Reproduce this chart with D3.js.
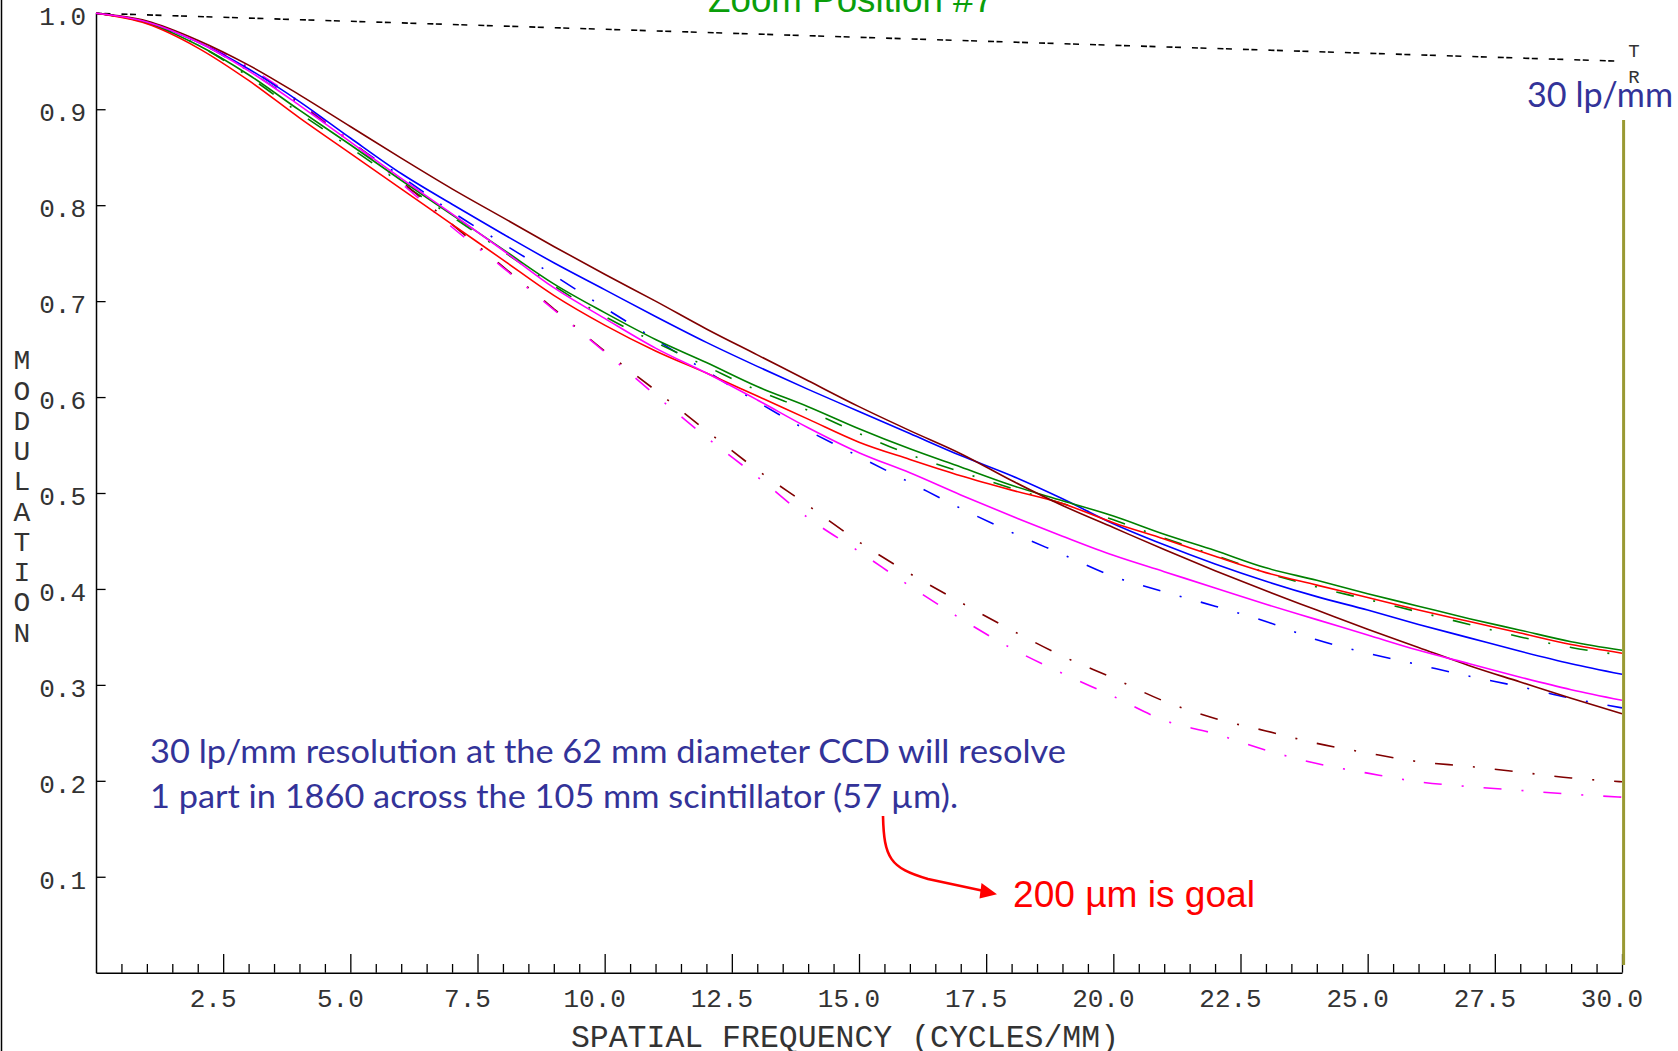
<!DOCTYPE html>
<html><head><meta charset="utf-8">
<script src="https://cdn.jsdelivr.net/npm/d3@7"></script>
<style>html,body{margin:0;padding:0;background:#fff;overflow:hidden}</style>
</head><body>
<svg id="c" width="1678" height="1051" xmlns="http://www.w3.org/2000/svg"></svg>
<script>
// ---- data ----
const freq = [0,1,2,3,4,5,6,7,8,9,10,11,12,13,14,15,16,17,18,19,20,21,22,23,24,25,26,27,28,29,30];

// solid (tangential) curves
const blueT    = [1.000,0.991,0.970,0.942,0.908,0.870,0.833,0.801,0.770,0.740,0.712,0.684,0.657,0.632,0.608,0.585,0.562,0.539,0.518,0.494,0.468,0.446,0.426,0.408,0.392,0.378,0.363,0.349,0.335,0.322,0.311];
const greenT   = [1.000,0.990,0.967,0.936,0.899,0.863,0.826,0.790,0.754,0.718,0.688,0.660,0.636,0.611,0.590,0.567,0.546,0.527,0.508,0.492,0.476,0.457,0.440,0.422,0.409,0.395,0.382,0.369,0.357,0.345,0.336];
const redT     = [1.000,0.989,0.964,0.930,0.891,0.854,0.817,0.780,0.743,0.706,0.675,0.648,0.625,0.601,0.577,0.553,0.535,0.518,0.503,0.489,0.469,0.452,0.434,0.417,0.404,0.391,0.378,0.366,0.354,0.342,0.333];
const maroonT  = [1.000,0.992,0.972,0.946,0.915,0.882,0.849,0.817,0.787,0.757,0.728,0.700,0.671,0.644,0.617,0.590,0.565,0.541,0.513,0.487,0.464,0.441,0.419,0.398,0.378,0.358,0.339,0.320,0.303,0.286,0.270];
const magentaT = [1.000,0.991,0.970,0.940,0.904,0.866,0.828,0.791,0.753,0.714,0.682,0.651,0.625,0.597,0.568,0.542,0.521,0.498,0.476,0.455,0.435,0.418,0.401,0.384,0.368,0.352,0.336,0.322,0.308,0.295,0.284];

// dash-dot (radial) curves
const blueR    = [1.000,0.991,0.970,0.940,0.905,0.866,0.830,0.793,0.760,0.727,0.693,0.660,0.627,0.595,0.565,0.538,0.511,0.484,0.459,0.436,0.413,0.397,0.382,0.366,0.347,0.333,0.321,0.309,0.298,0.286,0.276];
const greenR   = [1.000,0.990,0.967,0.934,0.896,0.860,0.823,0.788,0.752,0.716,0.684,0.657,0.632,0.607,0.586,0.562,0.540,0.522,0.505,0.489,0.472,0.453,0.435,0.417,0.402,0.389,0.376,0.363,0.350,0.339,0.331];
const maroonR  = [1.000,0.991,0.971,0.943,0.907,0.867,0.825,0.780,0.736,0.692,0.648,0.607,0.565,0.524,0.487,0.449,0.416,0.386,0.357,0.330,0.307,0.283,0.265,0.252,0.239,0.229,0.220,0.215,0.209,0.203,0.199];
const magentaR = [1.000,0.991,0.971,0.944,0.908,0.867,0.823,0.777,0.735,0.691,0.647,0.602,0.558,0.517,0.474,0.439,0.403,0.369,0.338,0.312,0.288,0.263,0.249,0.232,0.218,0.208,0.199,0.194,0.190,0.186,0.183];

// diffraction limit
const diffFreq  = [0, 30];
const diffLimit = [1.000, 0.950];

const xMajorTicks = [2.5,5,7.5,10,12.5,15,17.5,20,22.5,25,27.5,30];
const xMinorTicks = [0.5,1,1.5,2,3,3.5,4,4.5,5.5,6,6.5,7,8,8.5,9,9.5,10.5,11,11.5,12,13,13.5,14,14.5,15.5,16,16.5,17,18,18.5,19,19.5,20.5,21,21.5,22,23,23.5,24,24.5,25.5,26,26.5,27,28,28.5,29,29.5];
const yTicks = [0.1,0.2,0.3,0.4,0.5,0.6,0.7,0.8,0.9,1.0];

const seriesNames  = ["blueT","greenT","redT","maroonT","magentaT","blueR","greenR","maroonR","magentaR"];
const seriesValues = [blueT,greenT,redT,maroonT,magentaT,blueR,greenR,maroonR,magentaR];
const seriesColors = ["#0000ff","#008000","#ff0000","#800000","#ff00ff","#0000ff","#008000","#800000","#ff00ff"];
const seriesDash   = [null,null,null,null,null,"18,20,2,20","18,20,2,20","18,20,2,20","18,20,2,20"];

// ---- drawing ----
const svg = d3.select("#c");
const x = d3.scaleLinear().domain([0,30]).range([96,1622]);
const y = d3.scaleLinear().domain([0,1]).range([972.7,13.3]);

const mono = "'Liberation Mono','DejaVu Sans Mono',monospace";
const txtCol = "#333";

// left frame line
svg.append("line").attr("x1",1.5).attr("x2",1.5).attr("y1",0).attr("y2",1051)
  .attr("stroke","#000").attr("stroke-width",1.5);

// X axis: minor ticks
svg.append("g").attr("transform",`translate(0,${y(0)})`)
  .call(d3.axisBottom(x).tickValues(xMinorTicks).tickSize(-8.7).tickSizeOuter(0).tickFormat(""))
  .call(g=>g.selectAll("line").attr("stroke","#000").attr("stroke-width",1.3))
  .call(g=>g.select(".domain").attr("stroke","#000").attr("stroke-width",1.5));
// X axis: major ticks and labels
svg.append("g").attr("transform",`translate(0,${y(0)})`)
  .call(d3.axisBottom(x).tickValues(xMajorTicks).tickSize(-18.7).tickSizeOuter(0).tickPadding(34).tickFormat(d3.format(".1f")))
  .call(g=>g.select(".domain").remove())
  .call(g=>g.selectAll("line").attr("stroke","#000").attr("stroke-width",1.3))
  .call(g=>g.selectAll("text").attr("font-family",mono).attr("font-size",26).attr("fill",txtCol)
      .attr("dy",null).attr("x",-10.5).attr("y",34));

// Y axis
svg.append("g").attr("transform",`translate(${x(0)},0)`)
  .call(d3.axisLeft(y).tickValues(yTicks).tickSize(-9.6).tickSizeOuter(0).tickPadding(10).tickFormat(d3.format(".1f")))
  .call(g=>g.select(".domain").attr("stroke","#000").attr("stroke-width",1.5))
  .call(g=>g.selectAll("line").attr("stroke","#000").attr("stroke-width",1.3))
  .call(g=>g.selectAll("text").attr("font-family",mono).attr("font-size",26).attr("fill",txtCol)
      .attr("dy",null).attr("y",11.5));

// axis titles
svg.append("text").attr("x",845).attr("y",1046.5).attr("text-anchor","middle")
  .attr("font-family",mono).attr("font-size",31.5).attr("fill",txtCol)
  .text("SPATIAL FREQUENCY (CYCLES/MM)");
const yTitle = "MODULATION".split("");
svg.append("g").selectAll("text").data(yTitle).join("text")
  .attr("x",22).attr("y",(d,i)=>369.3+i*30.27).attr("text-anchor","middle")
  .attr("font-family",mono).attr("font-size",28).attr("fill",txtCol).text(d=>d);

// diffraction limit line
const line = d3.line().x(d=>x(d[0])).y(d=>y(d[1])).curve(d3.curveMonotoneX);
svg.append("path").datum(diffFreq.map((f,i)=>[f,diffLimit[i]]))
  .attr("d",line).attr("fill","none").attr("stroke","#000").attr("stroke-width",1.6)
  .attr("stroke-dasharray","6,2.5,6,11");
svg.append("text").attr("x",1634).attr("y",57).attr("text-anchor","middle")
  .attr("font-family",mono).attr("font-size",19).attr("fill",txtCol).text("T");
svg.append("text").attr("x",1634).attr("y",83).attr("text-anchor","middle")
  .attr("font-family",mono).attr("font-size",19).attr("fill",txtCol).text("R");

// MTF curves (dash-dot first, solid on top)
const order = [5,6,7,8,0,1,2,3,4];
svg.append("g").selectAll("path").data(order).join("path")
  .attr("d",i=>line(freq.map((f,k)=>[f,seriesValues[i][k]])))
  .attr("fill","none").attr("stroke",i=>seriesColors[i]).attr("stroke-width",1.6)
  .attr("stroke-dasharray",i=>seriesDash[i]).attr("class",i=>seriesNames[i]);

// 30 lp/mm marker line
svg.append("line").attr("x1",x(30)+1.6).attr("x2",x(30)+1.6).attr("y1",120).attr("y2",965)
  .attr("stroke","#999933").attr("stroke-width",3);

// annotations
const sans = "'Liberation Sans',Arial,sans-serif";
const calib = "Lato,'Open Sans',sans-serif";
svg.append("text").attr("x",708).attr("y",11.5).attr("font-family",sans).attr("font-size",37)
  .attr("fill","#0a9e0a").attr("textLength",286).attr("lengthAdjust","spacingAndGlyphs").text("Zoom Position #7");
svg.append("text").attr("x",1527).attr("y",107).attr("font-family",calib).attr("font-size",34)
  .attr("fill","#333399").attr("textLength",146).attr("lengthAdjust","spacingAndGlyphs").text("30 lp/mm");
svg.append("text").attr("x",150).attr("y",763.3).attr("font-family",calib).attr("font-size",33)
  .attr("fill","#333399").attr("textLength",916).attr("lengthAdjust","spacingAndGlyphs")
  .text("30 lp/mm resolution at the 62 mm diameter CCD will resolve");
svg.append("text").attr("x",150).attr("y",808.3).attr("font-family",calib).attr("font-size",33)
  .attr("fill","#333399").attr("textLength",808).attr("lengthAdjust","spacingAndGlyphs")
  .text("1 part in 1860 across the 105 mm scintillator (57 µm).");
svg.append("text").attr("x",1013).attr("y",906.5).attr("font-family",sans).attr("font-size",37)
  .attr("fill","#ff0000").attr("textLength",242).attr("lengthAdjust","spacingAndGlyphs").text("200 µm is goal");

// red arrow
svg.append("path").attr("d","M883,816 C884,858 890,868 928,879 L984,891")
  .attr("fill","none").attr("stroke","#ff0000").attr("stroke-width",2.6);
svg.append("path").attr("d","M997,894.3 L981.5,883 L979.5,898.5 Z").attr("fill","#ff0000");
</script>
</body></html>
